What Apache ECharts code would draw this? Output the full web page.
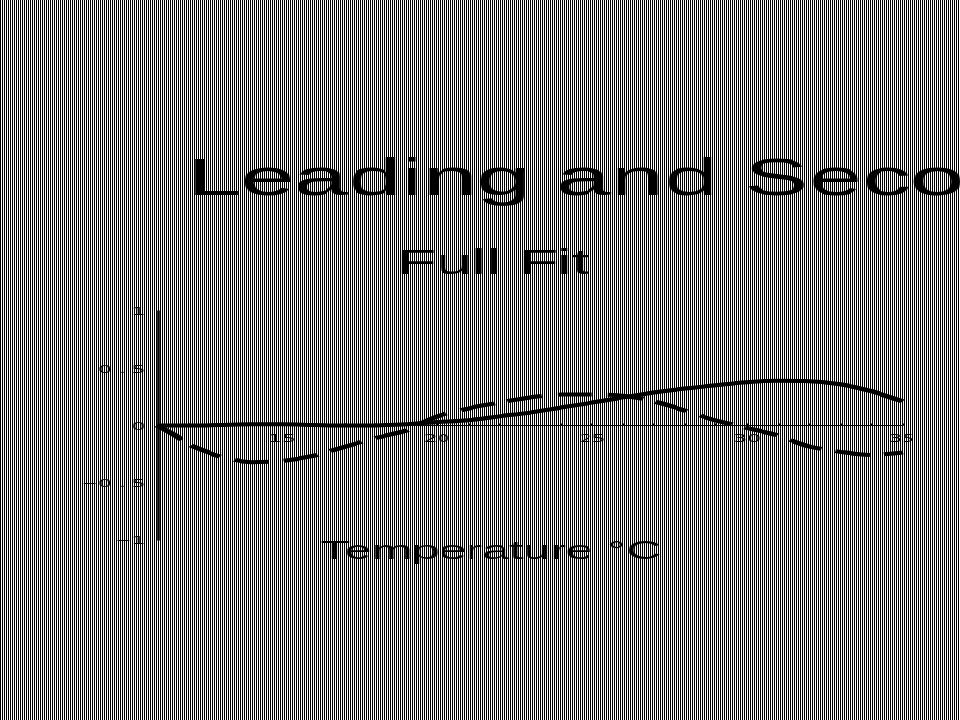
<!DOCTYPE html>
<html>
<head>
<meta charset="utf-8">
<style>
html,body{margin:0;padding:0;width:960px;height:720px;overflow:hidden;
  background:linear-gradient(90deg,#000 0 1px,#fff 1px 2px);
  background-size:2px 100%;}
#c{position:absolute;left:0;top:0;width:513px;height:720px;transform-origin:0 0;transform:scaleX(1.8713);}
#c canvas{image-rendering:pixelated;}
</style>
<script src="https://cdn.jsdelivr.net/npm/echarts@6/dist/echarts.min.js"></script>
</head>
<body>
<div id="c"></div>
<script>
const titleText = "Leading and Seco";
const subtitleText = "Full Fit";
const xLabel = "Temperature °C";
const temperature = [11,11.5,12,13,14,15,16,17,18,19,20,21,22,23,24,25,26,27,28,29,30,31,32,33,34,35];
const leading = [0,0,0,0.005,0.01,0.01,0.005,0,0,0.01,0.03,0.046,0.08,0.113,0.157,0.2,0.245,0.288,0.323,0.352,0.378,0.39,0.387,0.36,0.3,0.21];
const secondary = [0,-0.08,-0.166,-0.27,-0.32,-0.31,-0.266,-0.188,-0.11,-0.044,0.079,0.148,0.2,0.245,0.27,0.27,0.26,0.21,0.13,0.044,-0.022,-0.087,-0.183,-0.23,-0.258,-0.236];
const xTickLabels = [15,20,25,30,35];
const xTicks = [12,13,14,15,16,17,18,19,20,21,22,23,24,25,26,27,28,29,30,31,32,33,34,35];
const yTicks = [-1,-0.5,0,0.5,1];

const font = "Liberation Sans";
const tickFont = "DejaVu Sans";
const pairs = ys => temperature.map((t,i)=>[t,ys[i]]);
const chart = echarts.init(document.getElementById('c'),null,{width:513,height:720,devicePixelRatio:1});
chart.setOption({
  animation:false,
  backgroundColor:'transparent',
  title:[
    {text:titleText,left:95,top:150,textStyle:{fontFamily:font,fontSize:51.5,fontWeight:'normal',color:'#000'}},
    {text:subtitleText,left:207,top:243,textStyle:{fontFamily:font,fontSize:34.4,fontWeight:'normal',color:'#000'}}
  ],
  grid:{left:84.4,right:30.9,top:311,height:229,containLabel:false},
  xAxis:{type:'value',min:11,max:35,
    name:xLabel,nameLocation:'middle',nameGap:-1,
    nameTextStyle:{fontFamily:font,fontSize:26,color:'#000',padding:[0,42,0,0]},
    axisLine:{onZero:true,lineStyle:{color:'#000',width:1}},
    axisTick:{show:true,inside:true,length:2,customValues:xTicks,lineStyle:{color:'#000',width:1}},
    axisLabel:{customValues:xTickLabels,fontFamily:tickFont,fontSize:11,color:'#000',margin:-106,formatter:v=>String(v)},
    splitLine:{show:false}},
  yAxis:{type:'value',min:-1,max:1,interval:0.5,
    axisLine:{onZero:false,lineStyle:{color:'#000',width:1.6}},
    axisTick:{show:false},
    axisLabel:{customValues:yTicks,fontFamily:tickFont,fontSize:11,color:'#000',margin:7,padding:[3,0,0,0],
      rich:{p:{fontFamily:tickFont,fontSize:11,color:'#000',padding:[0,3.6,0,3.6]}},
      formatter:v=>String(v).replace('-','\u2212').replace('.','{p|.}')},
    splitLine:{show:false}},
  series:[
    {name:'Leading',type:'line',data:pairs(leading),smooth:0.3,symbol:'none',clip:false,lineStyle:{color:'#000',width:4}},
    {name:'Secondary',type:'line',data:pairs(secondary),smooth:0.3,symbol:'none',clip:false,lineStyle:{color:'#000',width:4,type:[19,8]}}
  ]
});
</script>
</body>
</html>
